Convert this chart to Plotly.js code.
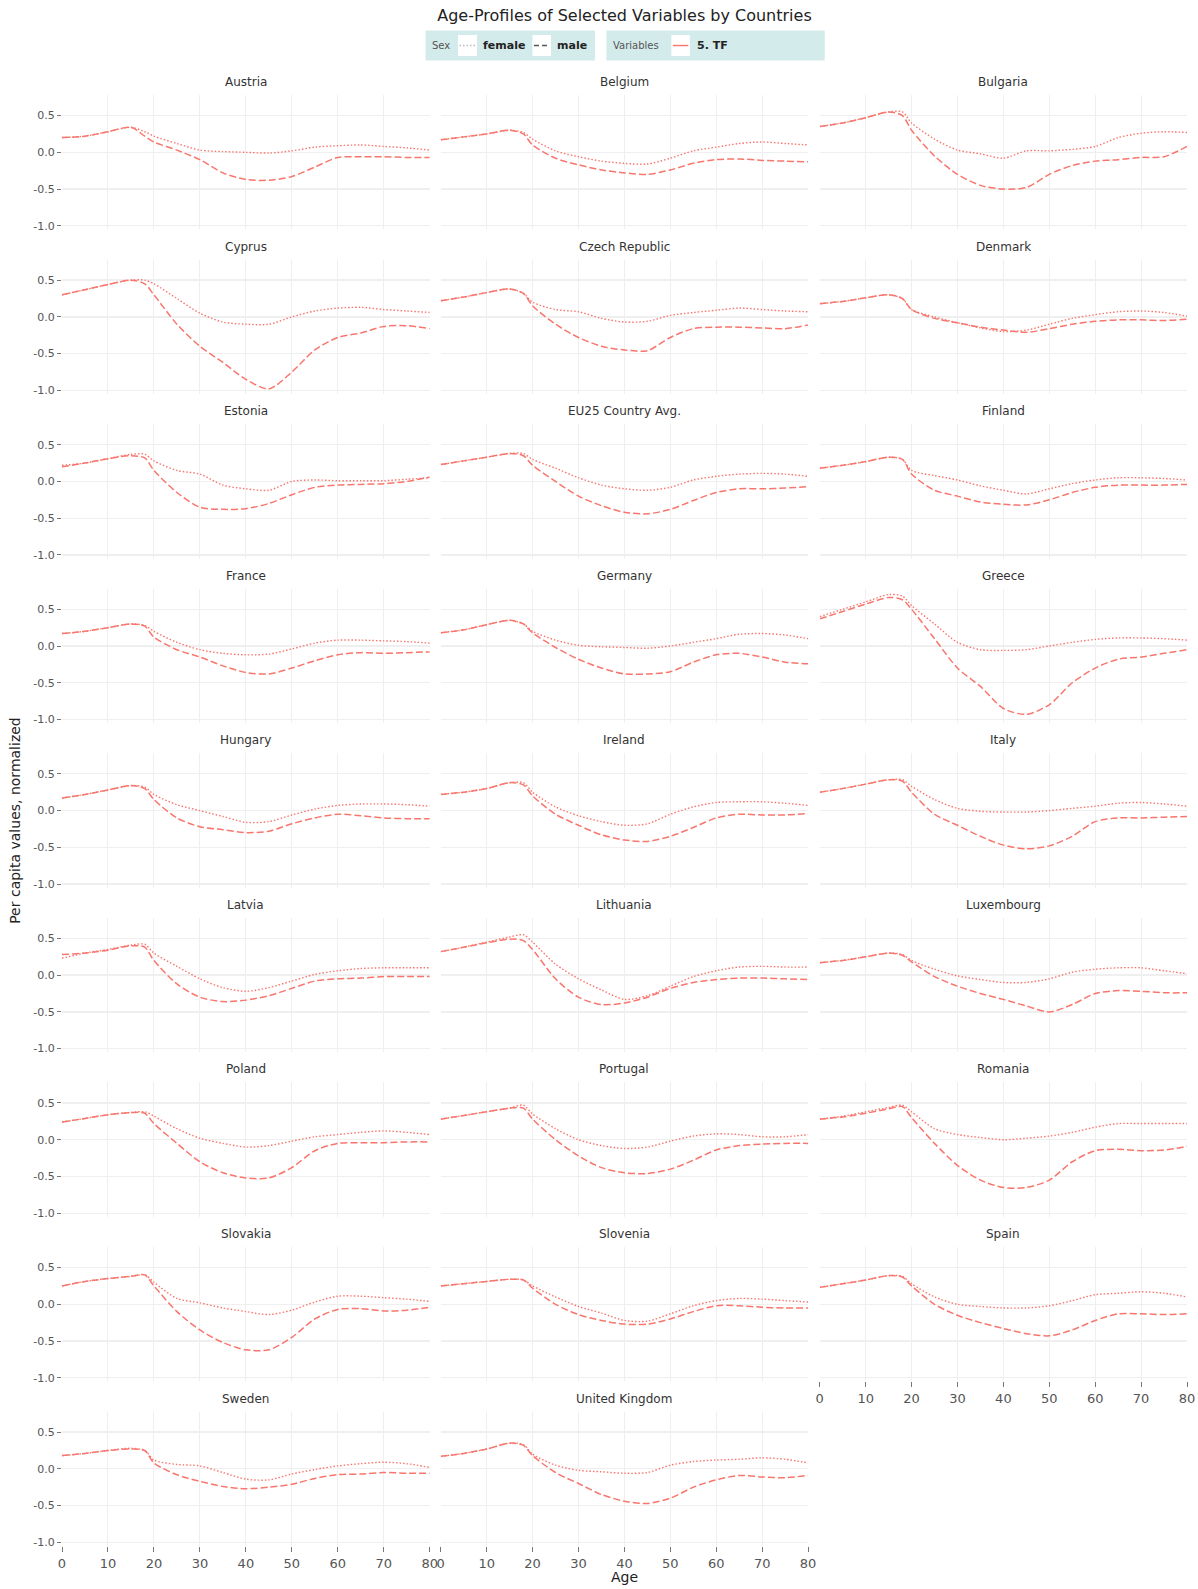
<!DOCTYPE html>
<html><head><meta charset="utf-8">
<script src="https://cdn.plot.ly/plotly-3.0.1.min.js"></script>
<style>html,body{margin:0;padding:0;background:#fff}#chart{width:1198px;height:1589px}</style>
</head><body><div id="chart"></div>
<script>
// ---------------- DATA ----------------
const ages = [0,5,10,15,18,20,25,30,35,40,45,50,55,60,65,70,75,80];
const countries = ["Austria","Belgium","Bulgaria","Cyprus","Czech Republic","Denmark","Estonia","EU25 Country Avg.","Finland","France","Germany","Greece","Hungary","Ireland","Italy","Latvia","Lithuania","Luxembourg","Poland","Portugal","Romania","Slovakia","Slovenia","Spain","Sweden","United Kingdom"];
const yTickVals = [-1.0,-0.5,0.0,0.5];
const yTickText = ["-1.0","-0.5","0.0","0.5"];
const xTickVals = [0,10,20,30,40,50,60,70,80];
const sexLabels = ["female","male"];
const variableLabel = "5. TF";

const female_Austria = [0.20,0.22,0.28,0.34,0.28,0.22,0.12,0.03,0.01,0.00,-0.01,0.02,0.07,0.09,0.10,0.08,0.06,0.03];
const male_Austria   = [0.20,0.22,0.28,0.34,0.22,0.14,0.03,-0.10,-0.28,-0.37,-0.38,-0.33,-0.20,-0.07,-0.06,-0.06,-0.07,-0.07];
const female_Belgium = [0.17,0.21,0.25,0.30,0.27,0.18,0.02,-0.06,-0.12,-0.15,-0.16,-0.08,0.02,0.07,0.12,0.14,0.12,0.10];
const male_Belgium   = [0.17,0.21,0.25,0.30,0.25,0.10,-0.08,-0.17,-0.24,-0.28,-0.30,-0.24,-0.15,-0.10,-0.09,-0.11,-0.12,-0.13];
const female_Bulgaria = [0.35,0.40,0.47,0.55,0.55,0.40,0.18,0.03,-0.02,-0.08,0.02,0.02,0.04,0.08,0.20,0.26,0.28,0.27];
const male_Bulgaria   = [0.35,0.40,0.47,0.55,0.50,0.30,-0.05,-0.30,-0.45,-0.50,-0.48,-0.30,-0.18,-0.12,-0.10,-0.07,-0.06,0.08];
const female_Cyprus = [0.30,0.37,0.44,0.50,0.50,0.45,0.25,0.05,-0.07,-0.10,-0.10,0.00,0.08,0.12,0.13,0.10,0.08,0.06];
const male_Cyprus   = [0.30,0.37,0.44,0.50,0.45,0.30,-0.10,-0.40,-0.62,-0.85,-0.98,-0.75,-0.45,-0.28,-0.22,-0.13,-0.12,-0.16];
const female_Czech = [0.22,0.27,0.33,0.38,0.32,0.20,0.10,0.07,-0.02,-0.07,-0.06,0.02,0.06,0.09,0.12,0.10,0.08,0.07];
const male_Czech   = [0.22,0.27,0.33,0.38,0.32,0.15,-0.10,-0.28,-0.40,-0.45,-0.46,-0.28,-0.16,-0.14,-0.14,-0.15,-0.16,-0.11];
const female_Denmark = [0.18,0.21,0.26,0.30,0.25,0.10,0.00,-0.08,-0.15,-0.20,-0.18,-0.10,-0.02,0.03,0.07,0.08,0.06,0.01];
const male_Denmark   = [0.18,0.21,0.26,0.30,0.25,0.10,-0.02,-0.08,-0.14,-0.18,-0.21,-0.16,-0.10,-0.06,-0.04,-0.04,-0.05,-0.03];
const female_Estonia = [0.22,0.25,0.31,0.37,0.37,0.28,0.15,0.10,-0.05,-0.10,-0.12,0.00,0.02,0.01,0.01,0.01,0.03,0.05];
const male_Estonia   = [0.20,0.25,0.31,0.35,0.32,0.15,-0.15,-0.35,-0.38,-0.37,-0.30,-0.18,-0.08,-0.05,-0.04,-0.03,0.00,0.06];
const female_EU25 = [0.23,0.28,0.33,0.38,0.38,0.30,0.18,0.05,-0.05,-0.10,-0.12,-0.08,0.02,0.07,0.10,0.11,0.10,0.07];
const male_EU25   = [0.23,0.28,0.33,0.38,0.35,0.22,0.00,-0.20,-0.33,-0.42,-0.44,-0.38,-0.26,-0.15,-0.10,-0.10,-0.09,-0.07];
const female_Finland = [0.18,0.22,0.27,0.33,0.30,0.15,0.08,0.02,-0.06,-0.12,-0.17,-0.10,-0.03,0.02,0.05,0.05,0.04,0.02];
const male_Finland   = [0.18,0.22,0.27,0.33,0.30,0.10,-0.12,-0.20,-0.28,-0.31,-0.32,-0.25,-0.15,-0.08,-0.05,-0.05,-0.05,-0.04];
const female_France = [0.17,0.20,0.25,0.30,0.28,0.20,0.05,-0.05,-0.10,-0.12,-0.11,-0.04,0.04,0.08,0.08,0.07,0.06,0.04];
const male_France   = [0.17,0.20,0.25,0.30,0.27,0.12,-0.05,-0.15,-0.27,-0.36,-0.38,-0.30,-0.20,-0.12,-0.09,-0.10,-0.09,-0.08];
const female_Germany = [0.18,0.22,0.29,0.35,0.30,0.20,0.08,0.01,-0.01,-0.02,-0.03,0.00,0.05,0.10,0.16,0.17,0.15,0.10];
const male_Germany   = [0.18,0.22,0.29,0.35,0.30,0.18,-0.02,-0.18,-0.30,-0.38,-0.38,-0.35,-0.22,-0.12,-0.10,-0.15,-0.22,-0.24];
const female_Greece = [0.40,0.50,0.60,0.70,0.68,0.55,0.30,0.05,-0.05,-0.06,-0.05,0.00,0.05,0.09,0.11,0.11,0.10,0.08];
const male_Greece   = [0.37,0.47,0.57,0.66,0.63,0.50,0.10,-0.30,-0.55,-0.85,-0.93,-0.80,-0.50,-0.30,-0.18,-0.15,-0.10,-0.05];
const female_Hungary = [0.17,0.22,0.28,0.34,0.32,0.22,0.08,0.00,-0.08,-0.16,-0.15,-0.06,0.02,0.07,0.09,0.09,0.08,0.06];
const male_Hungary   = [0.17,0.22,0.28,0.34,0.30,0.15,-0.10,-0.22,-0.26,-0.30,-0.28,-0.18,-0.10,-0.05,-0.07,-0.10,-0.11,-0.11];
const female_Ireland = [0.22,0.25,0.30,0.38,0.38,0.25,0.05,-0.07,-0.15,-0.20,-0.18,-0.05,0.05,0.11,0.12,0.12,0.10,0.07];
const male_Ireland   = [0.22,0.25,0.30,0.38,0.35,0.20,-0.05,-0.20,-0.33,-0.40,-0.42,-0.35,-0.23,-0.10,-0.05,-0.06,-0.06,-0.04];
const female_Italy = [0.25,0.30,0.36,0.42,0.42,0.33,0.15,0.03,-0.01,-0.02,-0.02,0.00,0.03,0.06,0.10,0.11,0.09,0.06];
const male_Italy   = [0.25,0.30,0.36,0.42,0.40,0.25,-0.05,-0.20,-0.35,-0.47,-0.52,-0.48,-0.35,-0.15,-0.10,-0.10,-0.09,-0.08];
const female_Latvia = [0.23,0.30,0.35,0.41,0.42,0.30,0.12,-0.05,-0.17,-0.22,-0.17,-0.08,0.01,0.06,0.09,0.10,0.10,0.10];
const male_Latvia   = [0.28,0.30,0.34,0.40,0.38,0.20,-0.12,-0.30,-0.36,-0.34,-0.28,-0.18,-0.08,-0.05,-0.04,-0.02,-0.02,-0.02];
const female_Lithuania = [0.32,0.38,0.45,0.52,0.55,0.45,0.15,-0.05,-0.20,-0.33,-0.28,-0.15,-0.02,0.06,0.11,0.12,0.11,0.11];
const male_Lithuania   = [0.32,0.38,0.44,0.49,0.47,0.35,-0.05,-0.30,-0.40,-0.38,-0.30,-0.18,-0.10,-0.06,-0.04,-0.04,-0.05,-0.06];
const female_Luxembourg = [0.17,0.20,0.25,0.30,0.28,0.20,0.08,-0.01,-0.06,-0.10,-0.10,-0.05,0.04,0.08,0.10,0.10,0.06,0.02];
const male_Luxembourg   = [0.17,0.20,0.25,0.30,0.27,0.18,-0.02,-0.15,-0.25,-0.33,-0.42,-0.50,-0.40,-0.25,-0.21,-0.22,-0.24,-0.24];
const female_Poland = [0.24,0.29,0.34,0.37,0.38,0.32,0.15,0.02,-0.05,-0.10,-0.08,-0.02,0.04,0.07,0.10,0.12,0.10,0.07];
const male_Poland   = [0.24,0.29,0.34,0.37,0.36,0.22,-0.05,-0.30,-0.45,-0.52,-0.52,-0.38,-0.15,-0.05,-0.04,-0.04,-0.03,-0.03];
const female_Portugal = [0.28,0.33,0.38,0.43,0.47,0.35,0.15,0.00,-0.08,-0.12,-0.10,-0.02,0.05,0.08,0.07,0.04,0.04,0.07];
const male_Portugal   = [0.28,0.33,0.38,0.43,0.43,0.28,0.00,-0.22,-0.38,-0.45,-0.46,-0.40,-0.28,-0.14,-0.08,-0.06,-0.05,-0.05];
const female_Romania = [0.28,0.32,0.38,0.44,0.47,0.38,0.15,0.07,0.03,0.00,0.02,0.05,0.10,0.17,0.22,0.22,0.22,0.22];
const male_Romania   = [0.28,0.31,0.36,0.42,0.45,0.30,-0.05,-0.35,-0.55,-0.65,-0.65,-0.55,-0.30,-0.15,-0.13,-0.15,-0.14,-0.09];
const female_Slovakia = [0.25,0.31,0.35,0.38,0.40,0.30,0.08,0.02,-0.05,-0.10,-0.14,-0.08,0.03,0.11,0.11,0.09,0.07,0.04];
const male_Slovakia   = [0.25,0.31,0.35,0.38,0.40,0.25,-0.10,-0.35,-0.52,-0.62,-0.62,-0.45,-0.20,-0.07,-0.06,-0.09,-0.08,-0.04];
const female_Slovenia = [0.25,0.28,0.31,0.34,0.33,0.25,0.10,-0.03,-0.12,-0.22,-0.23,-0.13,-0.02,0.05,0.08,0.07,0.05,0.03];
const male_Slovenia   = [0.25,0.28,0.31,0.34,0.33,0.22,0.00,-0.14,-0.22,-0.27,-0.27,-0.20,-0.10,-0.02,-0.02,-0.04,-0.05,-0.05];
const female_Spain = [0.23,0.28,0.33,0.39,0.38,0.28,0.10,0.00,-0.03,-0.05,-0.05,-0.02,0.05,0.13,0.15,0.17,0.15,0.10];
const male_Spain   = [0.23,0.28,0.33,0.39,0.37,0.25,0.00,-0.15,-0.25,-0.33,-0.40,-0.43,-0.35,-0.22,-0.13,-0.13,-0.14,-0.13];
const female_Sweden = [0.18,0.21,0.25,0.28,0.25,0.12,0.06,0.04,-0.05,-0.14,-0.15,-0.07,-0.01,0.04,0.07,0.09,0.07,0.02];
const male_Sweden   = [0.18,0.21,0.25,0.27,0.25,0.08,-0.08,-0.17,-0.24,-0.27,-0.25,-0.21,-0.13,-0.08,-0.07,-0.05,-0.06,-0.06];
const female_UK = [0.17,0.21,0.27,0.35,0.33,0.20,0.05,-0.02,-0.04,-0.06,-0.05,0.05,0.10,0.12,0.13,0.15,0.13,0.08];
const male_UK   = [0.17,0.21,0.27,0.35,0.32,0.18,-0.05,-0.20,-0.35,-0.44,-0.47,-0.40,-0.25,-0.15,-0.09,-0.11,-0.12,-0.09];

const femaleSeries = [female_Austria,female_Belgium,female_Bulgaria,female_Cyprus,female_Czech,female_Denmark,female_Estonia,female_EU25,female_Finland,female_France,female_Germany,female_Greece,female_Hungary,female_Ireland,female_Italy,female_Latvia,female_Lithuania,female_Luxembourg,female_Poland,female_Portugal,female_Romania,female_Slovakia,female_Slovenia,female_Spain,female_Sweden,female_UK];
const maleSeries = [male_Austria,male_Belgium,male_Bulgaria,male_Cyprus,male_Czech,male_Denmark,male_Estonia,male_EU25,male_Finland,male_France,male_Germany,male_Greece,male_Hungary,male_Ireland,male_Italy,male_Latvia,male_Lithuania,male_Luxembourg,male_Poland,male_Portugal,male_Romania,male_Slovakia,male_Slovenia,male_Spain,male_Sweden,male_UK];

// ---------------- LAYOUT ----------------
const FONT = "DejaVu Sans, Verdana, sans-serif";
const W = 1198, H = 1589;
const L = 61.7, PR = 1187.5, T = 95, ROWPITCH = 164.6, PANELH = 134.5;
const NROWS = 9;
const Bpx = T + ROWPITCH*(NROWS-1) + PANELH;
const pw = PR - L, ph = Bpx - T;
const colPx = [[61.7,429.7],[440.7,808.3],[820,1187.5]];
const LINE_COLOR = "#F8766D";
const GRID = "#efefef";
const px2x = p => (p - L)/pw;
const px2y = p => 1 - (p - T)/ph;

const traces = [];
const layout = {
  width: W, height: H,
  margin: {l: L, r: W - PR, t: T, b: H - Bpx, pad: 0},
  paper_bgcolor: "#fff", plot_bgcolor: "#fff",
  font: {family: FONT, color: "#333"},
  showlegend: false,
  title: {text: "Age-Profiles of Selected Variables by Countries", x: 0.5, xref: "paper", xanchor: "center",
          y: 1 - 15/H, yref: "container", yanchor: "middle", font: {family: FONT, size: 16, color: "#222"}},
  annotations: [], shapes: []
};

const bottomIdx = new Set([23,24,25]);
countries.forEach((name, i) => {
  const r = Math.floor(i/3), c = i % 3;
  const sfx = i === 0 ? "" : String(i+1);
  const xa = "x" + sfx, ya = "y" + sfx;
  const top = T + ROWPITCH*r, bot = top + PANELH;
  const yd = [px2y(bot), px2y(top)];
  const xd = [px2x(colPx[c][0]), px2x(colPx[c][1])];
  const isBottom = bottomIdx.has(i);
  layout["xaxis"+sfx] = {
    domain: xd, anchor: ya, range: [0,80], tickvals: xTickVals,
    showgrid: true, gridcolor: GRID, gridwidth: 1, zeroline: false, showline: false,
    ticks: isBottom ? "outside" : "", ticklen: 5, tickcolor: "#777", tickwidth: 1,
    showticklabels: isBottom, tickfont: {family: FONT, size: 13, color: "#555"}, fixedrange: true
  };
  layout["yaxis"+sfx] = {
    domain: yd, anchor: xa, range: [-1.05, 0.78], tickvals: yTickVals, ticktext: yTickText,
    showgrid: true, gridcolor: GRID, gridwidth: 1.3, zeroline: false, showline: false,
    ticks: c === 0 ? "outside" : "", ticklen: 4, tickcolor: "#777", tickwidth: 1,
    showticklabels: c === 0, tickfont: {family: FONT, size: 11, color: "#555"}, fixedrange: true
  };
  traces.push({x: ages, y: femaleSeries[i], xaxis: xa, yaxis: ya, mode: "lines", name: sexLabels[0],
    line: {color: LINE_COLOR, width: 1.4, dash: "1.5px,2px", shape: "spline", smoothing: 0.8}, hoverinfo: "skip"});
  traces.push({x: ages, y: maleSeries[i], xaxis: xa, yaxis: ya, mode: "lines", name: sexLabels[1],
    line: {color: LINE_COLOR, width: 1.5, dash: "7px,3px", shape: "spline", smoothing: 0.8}, hoverinfo: "skip"});
  layout.annotations.push({text: name, xref: "paper", yref: "paper", x: (xd[0]+xd[1])/2, y: yd[1],
    xanchor: "center", yanchor: "bottom", yshift: 4, showarrow: false, font: {family: FONT, size: 12, color: "#333"}});
});

// ---------- legend boxes (drawn as shapes + text) ----------
const LEG_BG = "#d4ebeb";
const legTop = 30.5, legBot = 60.5, legMid = 45.5;
const keyTop = 35, keyBot = 56;
function rect(x0, x1, y0, y1, fill) {
  layout.shapes.push({type: "rect", xref: "paper", yref: "paper", x0: px2x(x0), x1: px2x(x1), y0: px2y(y1), y1: px2y(y0),
    fillcolor: fill, line: {width: 0}, layer: "above"});
}
function keyLine(x0, x1, color, dash) {
  layout.shapes.push({type: "line", xref: "paper", yref: "paper", x0: px2x(x0), x1: px2x(x1), y0: px2y(legMid), y1: px2y(legMid),
    line: {color: color, width: 1.4, dash: dash}, layer: "above"});
}
function legText(txt, x, size, color, bold) {
  layout.annotations.push({text: bold ? "<b>" + txt + "</b>" : txt, xref: "paper", yref: "paper", x: px2x(x), y: px2y(legMid),
    xanchor: "left", yanchor: "middle", showarrow: false, borderpad: 0, font: {family: FONT, size: size, color: color}});
}
rect(425.5, 595, legTop, legBot, LEG_BG);
rect(606.5, 825, legTop, legBot, LEG_BG);
legText("Sex", 431, 10, "#555", false);
rect(458, 477, keyTop, keyBot, "#ffffff");
keyLine(459.5, 475.5, "#bbbbbb", "1.5px,2px");
legText(sexLabels[0], 482, 11, "#222", true);
rect(532.5, 551, keyTop, keyBot, "#ffffff");
keyLine(534, 549.5, "#555555", "5px,3px");
legText(sexLabels[1], 556, 11, "#222", true);
legText("Variables", 612, 10, "#555", false);
rect(671.5, 690, keyTop, keyBot, "#ffffff");
keyLine(673, 688.5, LINE_COLOR, "solid");
legText(variableLabel, 696, 11, "#222", true);

// axis titles
layout.annotations.push({text: "Per capita values, normalized", xref: "paper", yref: "paper",
  x: px2x(14), y: 0.5, xanchor: "center", yanchor: "middle", textangle: -90, showarrow: false,
  font: {family: FONT, size: 14, color: "#222"}});
layout.annotations.push({text: "Age", xref: "paper", yref: "paper",
  x: 0.5, y: px2y(1577), xanchor: "center", yanchor: "middle", showarrow: false,
  font: {family: FONT, size: 14, color: "#222"}});

Plotly.newPlot("chart", traces, layout, {displayModeBar: false, staticPlot: true});
</script>
</body></html>
